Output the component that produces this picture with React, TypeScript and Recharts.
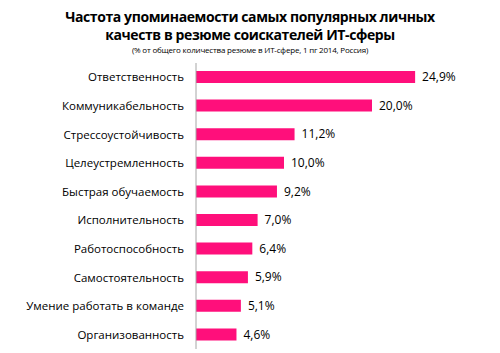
import { Bar, BarChart, LabelList, XAxis, YAxis } from "recharts"

const categories = [
  "Ответственность",
  "Коммуникабельность",
  "Стрессоустойчивость",
  "Целеустремленность",
  "Быстрая обучаемость",
  "Исполнительность",
  "Работоспособность",
  "Самостоятельность",
  "Умение работать в команде",
  "Организованность",
]

const shares = [24.9, 20.0, 11.2, 10.0, 9.2, 7.0, 6.4, 5.9, 5.1, 4.6]

const titleLines = [
  "Частота упоминаемости самых популярных личных",
  "качеств в резюме соискателей ИТ-сферы",
]
const subtitle = "(% от общего количества резюме в ИТ-сфере, 1 пг 2014, Россия)"

const font = "'Open Sans', 'Noto Sans', sans-serif"

export default function App() {
  const data = categories.map((name, i) => ({ name, value: shares[i] }))

  return (
    <div style={{ position: "absolute", left: 0, top: 0, width: 500, height: 353, background: "#fff", fontFamily: font }}>
      <div style={{ position: "absolute", left: 0, top: 8, width: 500, textAlign: "center", color: "#000" }}>
        {titleLines.map((line) => (
          <div key={line} style={{ fontSize: 14, fontWeight: 700, lineHeight: "18px", letterSpacing: -0.4 }}>
            {line}
          </div>
        ))}
        <div style={{ fontSize: 8, lineHeight: "12px", letterSpacing: -0.2 }}>{subtitle}</div>
      </div>
      <BarChart
        width={500}
        height={353}
        data={data}
        layout="vertical"
        margin={{ top: 63, right: 40, bottom: 4, left: 0 }}
        style={{ position: "absolute", left: 0, top: 0 }}
      >
        <XAxis type="number" hide domain={[0, 30]} />
        <YAxis
          type="category"
          dataKey="name"
          width={196}
          tickLine={false}
          axisLine={{ stroke: "#a6a6a6" }}
          tickMargin={6}
          interval={0}
          tick={{ fontSize: 11.5, fill: "#000", fontFamily: font }}
        />
        <Bar dataKey="value" fill="#ff0f7b" barSize={12} isAnimationActive={false}>
          <LabelList
            dataKey="value"
            position="right"
            offset={7}
            fontSize={12}
            fill="#000"
            fontFamily={font}
            formatter={(v) => `${Number(v).toFixed(1).replace(".", ",")}%`}
          />
        </Bar>
      </BarChart>
    </div>
  )
}
